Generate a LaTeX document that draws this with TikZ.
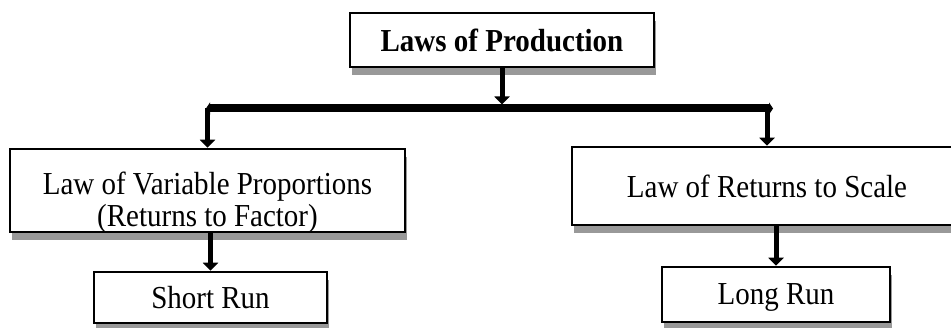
\documentclass[tikz,border=0pt]{standalone}
\usepackage{fontspec}
\setmainfont{Liberation Serif}[FakeStretch=0.906]
\usetikzlibrary{arrows.meta, shadows, positioning}

\begin{document}
\begin{tikzpicture}[x=1pt, y=-1pt,
  every node/.style = {draw, rectangle, line width=2.5pt, fill=white, inner sep=0pt, align=center,
    font=\fontsize{32}{32}\selectfont, text depth=0pt,
    drop shadow={shadow xshift=2pt, shadow yshift=-8pt, fill=black!40, opacity=1}},
  downarrow/.style = {line width=5pt, -{Triangle[width=15pt,length=8pt]}},
  barline/.style = {line width=8pt, {Triangle[width=12pt,length=4pt]}-{Triangle[width=12pt,length=4pt]}}]

  \useasboundingbox (0,0) rectangle (951,328);
  \clip (0,0) rectangle (951,328);

  \node[minimum width=304pt, minimum height=54pt, font=\fontsize{32}{32}\selectfont\bfseries] (laws) at (502,40) {Laws of Production};
  \node[minimum width=395pt, minimum height=83pt] (vp) at (207.5,190.5) {\rule{0pt}{40pt}Law of Variable Proportions\\(Returns to Factor)};
  \node[minimum width=390pt, minimum height=78pt] (rs) at (767,186) {Law of Returns to Scale};
  \node[minimum width=233pt, minimum height=51pt] (sr) at (210.5,297.5) {Short Run};
  \node[minimum width=228pt, minimum height=55pt] (lr) at (776,294.5) {Long Run};

  \coordinate (barL) at (206,108.5);
  \coordinate (barR) at (773,108.5);

  \draw[barline] (barL) -- (barR);
  \draw[downarrow, shorten >=4pt] (laws.south) -- (laws.south |- barL);
  \draw[downarrow] (vp.north |- barL) -- (vp.north);
  \draw[downarrow] (rs.north |- barR) -- (rs.north);
  \draw[downarrow] (sr.north |- vp.south) -- (sr.north);
  \draw[downarrow] (lr.north |- rs.south) -- (lr.north);
  %\draw (vp) -- (rs);
\end{tikzpicture}
\end{document}
